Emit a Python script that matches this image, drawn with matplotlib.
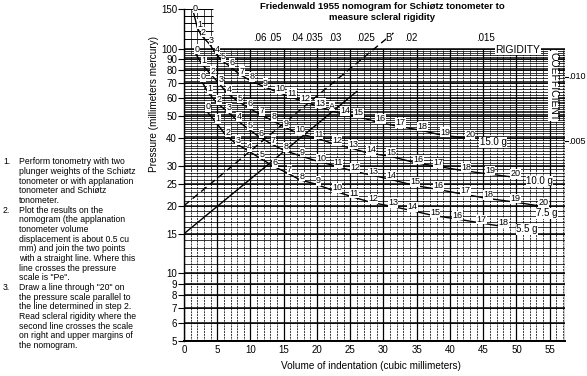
import numpy as np
import matplotlib
matplotlib.use("Agg")
import matplotlib.pyplot as plt
from matplotlib.ticker import NullLocator

plt.rcParams['font.family'] = ['Liberation Sans', 'DejaVu Sans']

# Schiotz scale readings 0..20 : (volume of indentation, pressure) per plunger weight
V_150 = [1.4, 2.0, 2.6, 3.8, 4.7, 5.6, 6.9, 8.4, 9.9, 11.9, 14.1, 15.9, 17.9, 20.2, 23.9, 25.9, 29.2, 32.2, 35.5, 38.9, 42.7]
P_150 = [146, 124, 114.5, 105, 96, 88.8, 83.4, 76.6, 72.3, 67.9, 64, 61.1, 58.2, 55.3, 51.0, 50.0, 47.0, 45.1, 43.4, 41.1, 40.0]

V_100 = [1.65, 2.7, 4.06, 5.26, 6.47, 8.12, 9.62, 11.4, 13.2, 15.0, 17.1, 19.9, 22.7, 25.1, 27.8, 30.8, 34.9, 37.9, 42.1, 45.7, 49.5]
P_100 = [96, 85.2, 76.6, 70.1, 63.3, 58.2, 54.8, 51.0, 48.0, 44.9, 42.0, 40.0, 37.5, 36.1, 34.2, 33.3, 31.0, 30.0, 28.6, 27.7, 26.8]

V_75 = [2.56, 3.6, 4.96, 6.47, 7.97, 9.62, 11.3, 13.1, 15.0, 17.5, 20.3, 22.9, 25.4, 28.1, 30.8, 34.4, 37.9, 42.0, 45.4, 49.5, 53.7]
P_75 = [72.3, 64, 57.1, 52.7, 48.0, 44.0, 40.5, 37.7, 35.3, 33.3, 31.4, 30.0, 28.5, 27.4, 26.3, 24.7, 23.7, 22.5, 21.6, 20.8, 19.9]

V_55 = [3.3, 4.8, 6.3, 7.8, 9.5, 11.4, 13.4, 15.5, 17.4, 19.9, 22.7, 25.3, 28.1, 31.1, 34.0, 37.4, 40.8, 44.4, 47.7]
P_55 = [53.2, 47.0, 41.1, 37.8, 35.3, 32.6, 30.0, 28.0, 26.1, 24.9, 23.2, 21.9, 20.7, 19.9, 19.1, 18.1, 17.5, 16.8, 16.2]

WEIGHTS = ["15.0 g", "10.0 g", "7.5 g", "5.5 g"]
NAME_V = [46.5, 53.5, 54.6, 51.6]
NAME_P = [38.3, 25.7, 18.5, 15.7]

# example construction lines
LINE_A_V = [0, 26.0]
LINE_A_P = [15, 64.5]
LINE_B_V = [0, 31.5]
LINE_B_P = [20, 117.4]

# rigidity coefficient scales
RIGID_TOP = [0.06, 0.05, 0.04, 0.035, 0.03, 0.025, 0.02, 0.015]
RIGID_TOP_LBL = [".06", ".05", ".04", ".035", ".03", ".025", ".02", ".015"]
RIGID_RIGHT = [0.010, 0.005]
RIGID_RIGHT_LBL = [".010", ".005"]

YTICKS = [5, 6, 7, 8, 9, 10, 15, 20, 25, 30, 40, 50, 60, 70, 80, 90, 100, 150]
XTICKS = list(range(0, 56, 5))

NOTES = [
    ("1.", "Perform tonometry with two"),
    ("", "plunger weights of the Schiøtz"),
    ("", "tonometer or with applanation"),
    ("", "tonometer and Schiøtz"),
    ("", "tonometer."),
    ("2.", "Plot the results on the"),
    ("", "nomogram (the applanation"),
    ("", "tonometer volume"),
    ("", "displacement is about 0.5 cu"),
    ("", "mm) and join the two points"),
    ("", "with a straight line. Where this"),
    ("", "line crosses the pressure"),
    ("", "scale is \"Pe\"."),
    ("3.", "Draw a line through \"20\" on"),
    ("", "the pressure scale parallel to"),
    ("", "the line determined in step 2."),
    ("", "Read scleral rigidity where the"),
    ("", "second line crosses the scale"),
    ("", "on right and upper margins of"),
    ("", "the nomogram."),
]

W, H = 587, 376
XMAX = 57.3
PTOP = 100

fig = plt.figure(figsize=(W / 100, H / 100), dpi=100)
ax = fig.add_axes([184 / W, 1 - 341 / H, 381 / W, 332 / H])
ax.set_yscale('log')
ax.set_xlim(0, XMAX)
ax.set_ylim(5, 150)

# grid paper
minor_h = list(range(5, 61)) + list(range(62, 101, 2))
major_h = [5, 6, 7, 8, 9, 10, 15, 20, 25, 30, 40, 50, 60, 70, 80, 90, 100]
ax.hlines(minor_h, 0, XMAX, color='k', lw=0.55, zorder=1)
ax.hlines(major_h, 0, XMAX, color='k', lw=1.1, zorder=1)
ax.vlines(range(0, 58), 5, PTOP, color='k', lw=0.55, linestyles=(0, (2.5, 1.2)), zorder=1)
ax.vlines(range(0, 56, 5), 5, PTOP, color='k', lw=0.9, zorder=1)
ax.vlines([XMAX], 5, PTOP, color='k', lw=1.0, zorder=1)
# small extension above 100 for the 15 g curve
ax.hlines(range(110, 151, 10), 0, 4.3, color='k', lw=0.7, zorder=1)
ax.hlines([150], 0, 4.3, color='k', lw=1.2, zorder=1)
ax.vlines([1, 2, 3, 4], PTOP, 150, color='k', lw=0.5, zorder=1)

for s in ['top', 'right']:
    ax.spines[s].set_visible(False)
ax.spines['left'].set_linewidth(1.0)
ax.spines['bottom'].set_linewidth(1.4)

ax.set_yticks(YTICKS)
ax.set_yticklabels([str(t) for t in YTICKS], fontsize=7)
ax.yaxis.set_minor_locator(NullLocator())
ax.set_xticks(XTICKS)
ax.set_xticklabels([str(t) for t in XTICKS], fontsize=7)
ax.tick_params(axis='y', length=4, width=0.8, pad=1)
ax.tick_params(axis='x', length=0, pad=3)

# calibration curves
curves = [(V_150, P_150), (V_100, P_100), (V_75, P_75), (V_55, P_55)]
for (vv, pp), name, nv, npp in zip(curves, WEIGHTS, NAME_V, NAME_P):
    ax.plot(vv, pp, color='k', lw=1.0, zorder=3)
    for i, (v, p) in enumerate(zip(vv, pp)):
        ax.annotate(str(i), (v, p), xytext=(1.6, 2.4), textcoords='offset points',
                    fontsize=6.5, ha='center', va='center', zorder=4,
                    bbox=dict(fc='white', ec='none', pad=0.2))
    ax.text(nv, npp, name, fontsize=7, ha='center', va='center', zorder=4,
            bbox=dict(fc='white', ec='none', pad=0.2))

# construction lines
ax.plot(LINE_A_V, LINE_A_P, color='k', lw=1.0, zorder=3)
ax.plot(LINE_B_V, LINE_B_P, color='k', lw=1.0, ls=(0, (5, 3)), zorder=3)
ax.text(22.3, 55.5, "A", fontsize=6.5, ha='center', va='center', zorder=5,
        bbox=dict(fc='white', ec='none', pad=0.1))
ax.text(30.8, 111, "B", fontsize=7, ha='center', va='center', zorder=5,
        bbox=dict(fc='white', ec='none', pad=0.1))

# rigidity coefficient scale, top margin
for e, lbl in zip(RIGID_TOP, RIGID_TOP_LBL):
    ax.text(np.log10(96 / 20) / e, 111, lbl, fontsize=7, ha='center', va='center')
# right margin
for e, lbl in zip(RIGID_RIGHT, RIGID_RIGHT_LBL):
    p = 20 * 10 ** (e * XMAX)
    ax.plot([XMAX, XMAX + 0.4], [p, p], color='k', lw=0.8, clip_on=False)
    ax.annotate(lbl, (XMAX, p), xytext=(2, 0), textcoords='offset points',
                fontsize=6.5, ha='left', va='center', annotation_clip=False)

ax.text(50.2, 98.5, "RIGIDITY", fontsize=7.5, ha='center', va='center', zorder=5,
        bbox=dict(fc='white', ec='none', pad=0.3))
ax.text(55.5, 68, "COEFFICIENT", fontsize=7.5, ha='center', va='center', rotation=270,
        zorder=5, bbox=dict(fc='white', ec='none', pad=0.3))

fig.text(382 / W, 1 - 12 / H, "Friedenwald 1955 nomogram for Schiøtz tonometer to\nmeasure scleral rigidity",
         fontsize=6.8, fontweight='bold', ha='center', va='center', linespacing=1.15)
fig.text(371 / W, 1 - 366 / H, "Volume of indentation (cubic millimeters)", fontsize=7.2,
         ha='center', va='center')
fig.text(154 / W, 1 - 104 / H, "Pressure (millimeters mercury)", fontsize=7.2,
         ha='center', va='center', rotation=90)

for i, (num, line) in enumerate(NOTES):
    y = 1 - (162 + i * 9.65) / H
    if num:
        fig.text(3 / W, y, num, fontsize=6.2, ha='left', va='center')
    fig.text(19 / W, y, line, fontsize=6.2, ha='left', va='center')

fig.savefig("out.png", dpi=100)
